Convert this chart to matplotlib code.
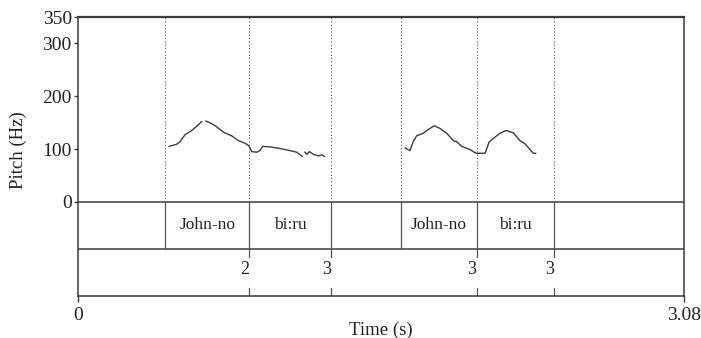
import numpy as np
import matplotlib
matplotlib.use("Agg")
import matplotlib.pyplot as plt

plt.rcParams['font.family'] = ['Liberation Serif', 'DejaVu Serif']

# ---- data ----
total_dur = 3.08
pitch_ticks = [0, 100, 200, 300, 350]

# pitch contour 1 (NaN = unvoiced gap)
t1 = [0.4625, 0.5016, 0.5184, 0.5438, 0.5779, 0.6033, 0.6287, np.nan,
      0.6506, 0.6795, 0.7050, 0.7385, 0.7812, 0.8147, 0.8488, 0.8691,
      0.8828, 0.9083, 0.9250, 0.9388, 0.9758, 1.0267, 1.0775, 1.1115,
      1.1400, np.nan, 1.1537, 1.1624, 1.1756, 1.1959, 1.2213, 1.2386, 1.2518]
f1 = [105, 109, 114, 127, 135, 143, 152, np.nan,
      153, 148, 142, 132, 125, 116, 111, 106,
      95, 94, 97, 105, 104, 101, 97, 94,
      86, np.nan, 94, 90, 95, 90, 87, 89, 86]

# pitch contour 2
t2 = [1.662, 1.687, 1.704, 1.721, 1.755, 1.780, 1.811, 1.840, 1.874,
      1.907, 1.925, 1.950, 1.992, 2.023, 2.069, 2.089, 2.111, 2.145,
      2.175, 2.212, 2.246, 2.272, 2.297, 2.314, 2.326]
f2 = [102, 97, 114, 125, 130, 137, 144, 139, 130,
      116, 114, 105, 99, 92, 92, 113, 120, 130,
      135, 131, 116, 110, 99, 92, 92]

# interval tier
bounds = [0.444, 0.869, 1.286, 1.640, 2.026, 2.421]
interval_labels = ["", "John-no", "bi:ru", "", "John-no", "bi:ru", ""]

# point tier
point_times = [0.869, 1.286, 2.026, 2.421]
point_labels = ["2", "3", "3", "3"]

# ---- layout ----
W, H = 701, 338
fig = plt.figure(figsize=(W / 100, H / 100), dpi=100)
ax = fig.add_axes([78 / W, (H - 296) / H, 606 / W, 279 / H])

px_per_hz = 184.5 / 350.0
tier_h = 47 / px_per_hz
ymin = -2 * tier_h
ax.set_xlim(0, total_dur)
ax.set_ylim(ymin, 350)

lc = '#3a3a3a'
for s in ax.spines.values():
    s.set_color(lc)
    s.set_linewidth(1.1)
ax.spines['top'].set_linewidth(1.6)

# pitch contours
ax.plot(t1, f1, color='#3c3c3c', lw=1.0)
ax.plot(t2, f2, color='#3c3c3c', lw=1.0)

# tier separators
ax.axhline(0, color=lc, lw=1.1)
ax.axhline(-tier_h, color=lc, lw=1.1)

# boundaries
for b in bounds:
    ax.plot([b, b], [0, 350], color='#555555', lw=0.8, ls=(0, (1, 2)))
    ax.plot([b, b], [-tier_h, 0], color='#555555', lw=0.9)

edges = [0] + bounds + [total_dur]
for i, lab in enumerate(interval_labels):
    if lab:
        ax.text((edges[i] + edges[i + 1]) / 2, -tier_h / 2, lab,
                ha='center', va='center', fontsize=12.5, color='#222222')

tick_len = 8 / px_per_hz
for pt, lab in zip(point_times, point_labels):
    ax.plot([pt, pt], [-tier_h, -tier_h - tick_len], color='#555555', lw=0.9)
    ax.plot([pt, pt], [ymin, ymin + tick_len], color='#555555', lw=0.9)
    ax.text(pt, -tier_h - 21 / px_per_hz, lab, ha='right', va='center',
            fontsize=13, color='#222222')

ax.set_yticks(pitch_ticks)
ax.set_yticklabels([str(v) for v in pitch_ticks])
ax.set_xticks([0, total_dur])
ax.set_xticklabels(['0', '3.08'])
ax.tick_params(axis='both', direction='out', length=3, width=1, color=lc,
               labelsize=14, labelcolor='#222222', pad=1.5)
ax.tick_params(axis='x', length=4, pad=4)

fig.text(381 / W, 1 - 330 / H, 'Time (s)', ha='center', va='center',
         fontsize=13.5, color='#222222')
fig.text(18 / W, 1 - 150 / H, 'Pitch (Hz)', ha='center', va='center',
         rotation=90, fontsize=13.5, color='#222222')

fig.savefig('out.png', dpi=100)
